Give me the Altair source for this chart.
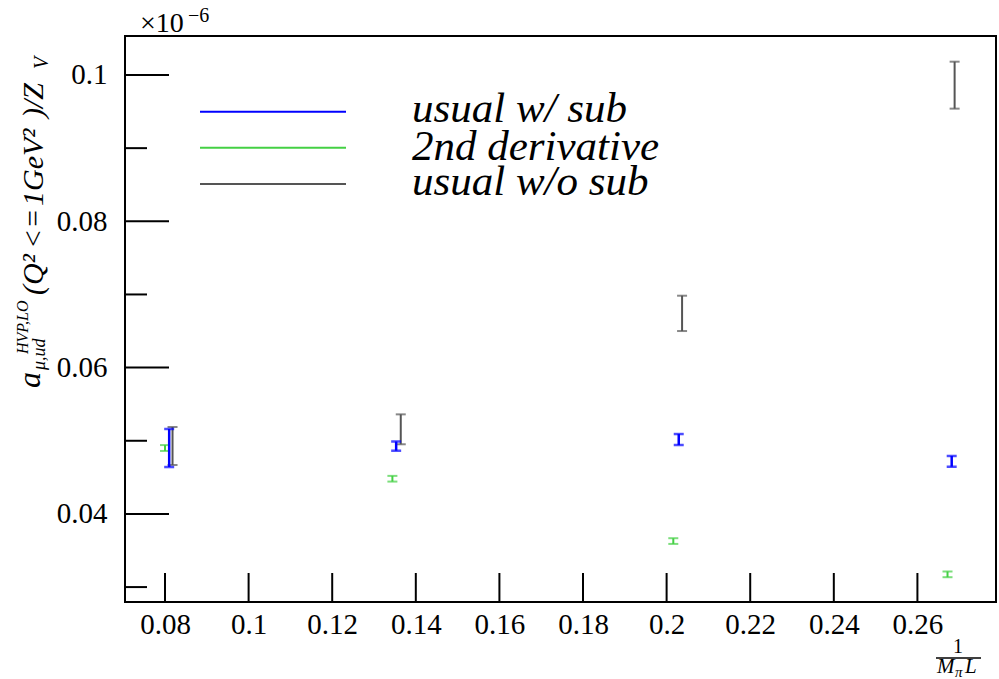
import altair as alt
import pandas as pd

# ---------------- data (values in units of 1e-6) ----------------
x_sub = [0.0810, 0.1353, 0.2029, 0.2682]
lo_sub = [0.04641, 0.04864, 0.04942, 0.04645]
hi_sub = [0.05161, 0.04990, 0.05092, 0.04792]

x_der = [0.0800, 0.1344, 0.2016, 0.2672]
c_der = [0.04901, 0.04481, 0.03629, 0.03174]
e_der = [0.00040, 0.00039, 0.00039, 0.00039]

x_nosub = [0.0818, 0.1364, 0.2037, 0.2689]
lo_nosub = [0.04669, 0.04952, 0.06500, 0.09540]
hi_nosub = [0.05188, 0.05361, 0.06983, 0.10182]

x_ticks = [0.08, 0.10, 0.12, 0.14, 0.16, 0.18, 0.20, 0.22, 0.24, 0.26]
y_major = [0.04, 0.06, 0.08, 0.10]
y_minor = [0.03, 0.05, 0.07, 0.09]

series_names = ["usual w/ sub", "2nd derivative", "usual w/o sub"]
series_colors = ["#0000ff", "#44d044", "#555555"]

# ---------------- layout ----------------
W, H = 871, 566
X_DOM = [0.07043, 0.2788]
Y_DOM = [0.02796, 0.10533]
xs = alt.Scale(domain=X_DOM, nice=False, zero=False)
ys = alt.Scale(domain=Y_DOM, nice=False, zero=False)
SERIF = "'Liberation Serif', 'Times New Roman', Times, serif"

xaxis = alt.Axis(values=x_ticks, format="~g", ticks=False, domain=False, grid=False,
                 labelFont=SERIF, labelFontSize=29, labelColor="black",
                 labelPadding=8, title=None, labelFlush=False, labelOverlap=False)
yaxis = alt.Axis(values=y_major, format="~g", ticks=False, domain=False, grid=False,
                 labelFont=SERIF, labelFontSize=29, labelColor="black",
                 labelPadding=18, title=None, labelFlush=False, labelOverlap=False)


def X(f):
    return alt.X(f, type="quantitative", scale=xs, axis=xaxis)


def Y(f):
    return alt.Y(f, type="quantitative", scale=ys, axis=yaxis)


def errbars(xv, lo, hi, color, width):
    df = pd.DataFrame({"x": xv, "lo": lo, "hi": hi})
    base = alt.Chart(df)
    rule = base.mark_rule(color=color, strokeWidth=width).encode(
        x=X("x"), y=Y("lo"), y2="hi")
    cap_lo = base.mark_tick(color=color, thickness=width, size=10,
                            orient="horizontal").encode(x=X("x"), y=Y("lo"))
    cap_hi = base.mark_tick(color=color, thickness=width, size=10,
                            orient="horizontal").encode(x=X("x"), y=Y("hi"))
    return [rule, cap_lo, cap_hi]


def label(text, x, y, size, angle=0, italic=True, align="left"):
    return alt.Chart(alt.Data(values=[{}])).mark_text(
        text=text, font=SERIF, fontSize=size,
        fontStyle="italic" if italic else "normal",
        angle=angle, align=align, baseline="alphabetic", color="black"
    ).encode(x=alt.value(x), y=alt.value(y))


def hline(x1, x2, y, color, width=2):
    return alt.Chart(alt.Data(values=[{}])).mark_rule(
        color=color, strokeWidth=width).encode(
        x=alt.value(x1), x2=alt.value(x2), y=alt.value(y))


layers = []

# inner ticks
layers.append(alt.Chart(pd.DataFrame({"x": x_ticks})).mark_rule(
    color="black", strokeWidth=2).encode(x=X("x"), y=alt.value(H), y2=alt.value(H - 29)))
layers.append(alt.Chart(pd.DataFrame({"y": y_major})).mark_rule(
    color="black", strokeWidth=2).encode(y=Y("y"), x=alt.value(0), x2=alt.value(44)))
layers.append(alt.Chart(pd.DataFrame({"y": y_minor})).mark_rule(
    color="black", strokeWidth=2).encode(y=Y("y"), x=alt.value(0), x2=alt.value(22)))

# data
lo_der = [c - e for c, e in zip(c_der, e_der)]
hi_der = [c + e for c, e in zip(c_der, e_der)]
layers += errbars(x_der, lo_der, hi_der, series_colors[1], 2)
layers += errbars(x_nosub, lo_nosub, hi_nosub, series_colors[2], 2)
layers += errbars(x_sub, lo_sub, hi_sub, series_colors[0], 2.5)

# legend
leg_y = [75.7, 111.7, 148]
leg_text_y = [85.7, 124, 159]
for name, col, ly, ty in zip(series_names, series_colors, leg_y, leg_text_y):
    layers.append(hline(75, 221, ly, col, 2))
    layers.append(label(name, 287, ty, 43))

# exponent
layers.append(label("×10", 15, -4, 28, italic=False))
layers.append(label("−6", 63, -14, 20, italic=False))

# y title (rotated, composed from pieces)
layers.append(label("a", -85, 352, 32, angle=270))
layers.append(label("HVP,LO", -97, 318, 16, angle=270))
layers.append(label("μ,ud", -80, 334, 18, angle=270))
layers.append(label("(Q²", -82, 259, 30, angle=270))
layers.append(label("<=", -82, 213, 30, angle=270))
layers.append(label("1GeV²", -82, 170, 30, angle=270))
layers.append(label(")/Z", -82, 82, 30, angle=270))
layers.append(label("V", -77, 33, 20, angle=270))

# x title (fraction)
layers.append(label("1", 833, 617, 20, italic=False, align="center"))
layers.append(hline(811, 856, 622, "black", 1.5))
layers.append(label("M", 812, 637, 21))
layers.append(label("π", 830, 641, 15))
layers.append(label("L", 840, 637, 21))

chart = alt.layer(*layers).properties(
    width=W, height=H,
    padding={"left": 125, "top": 36, "right": 3, "bottom": 77},
    autosize=alt.AutoSizeParams(type="none"),
    background="white",
).configure_view(stroke="black", strokeWidth=2)

chart.save("out.html", embed_options={"renderer": "svg", "actions": False})
